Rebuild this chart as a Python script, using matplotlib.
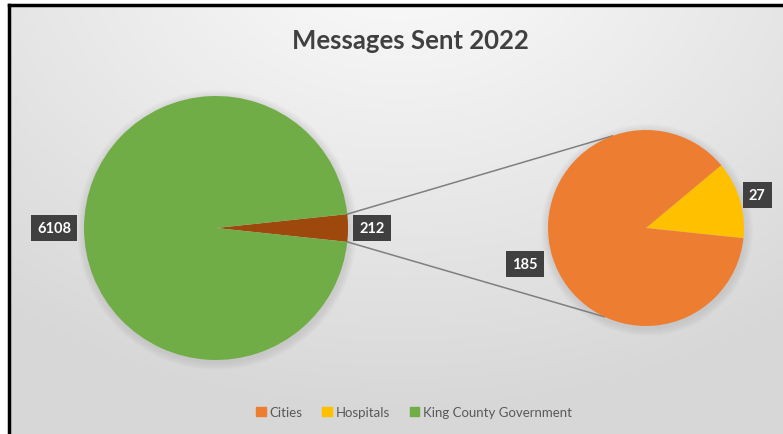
import numpy as np
import matplotlib.pyplot as plt
from matplotlib.patches import Patch, Circle

# message counts by sender
main_labels = ["Other", "King County Government"]
main_values = [212, 6108]
sub_labels = ["Hospitals", "Cities"]
sub_values = [27, 185]

c_cities = "#ED7D31"
c_hosp = "#FFC000"
c_kcg = "#70AD47"
c_other = "#9E480E"

plt.rcParams["font.family"] = ["Lato", "DejaVu Sans"]

W, H = 783, 435
fig = plt.figure(figsize=(W / 100, H / 100), dpi=100)

# soft grey background, lighter at the top
bg = fig.add_axes([0, 0, 1, 1])
yy, xx = np.mgrid[0:H, 0:W]
d = np.sqrt(((xx - 400) / 700.0) ** 2 + ((yy + 60) / 520.0) ** 2)
shade = np.clip(0.99 - 0.16 * d, 0.845, 0.99)
bg.imshow(np.dstack([shade] * 3), extent=[0, W, 0, H], origin="upper", aspect="auto")
bg.set_xlim(0, W)
bg.set_ylim(0, H)
bg.axis("off")
# frame lines on left and top
bg.fill_between([0, 8], 0, H, color="white")
bg.fill_between([0, W], H - 5, H, color="white")
bg.plot([8.5, 8.5], [0, H - 5.5], color="black", lw=2.5)
bg.plot([8.5, W], [H - 5.5, H - 5.5], color="black", lw=2.5)

ax = fig.add_axes([0, 0, 1, 1])
ax.set_xlim(0, W)
ax.set_ylim(0, H)
ax.set_aspect("equal")
ax.axis("off")

left_c, left_r = (216, 206), 132
right_c, right_r = (646, 206), 98

# soft shadows under both pies
for (cx, cy), r in [(left_c, left_r), (right_c, right_r)]:
    for k in range(8):
        ax.add_patch(Circle((cx + 1, cy - 2), r + 8 - k, color="#9a9a9a",
                            alpha=0.035, lw=0, zorder=1))

other_angle = main_values[0] / sum(main_values) * 360
ax.pie(main_values, colors=[c_other, c_kcg], startangle=-other_angle / 2,
       center=left_c, radius=left_r, frame=True,
       wedgeprops=dict(linewidth=0, zorder=2))
ax.pie(sub_values, colors=[c_hosp, c_cities], startangle=-6,
       center=right_c, radius=right_r, frame=True,
       wedgeprops=dict(linewidth=0, zorder=2))
ax.set_xlim(0, W)
ax.set_ylim(0, H)
ax.axis("off")

# connector lines from the "other" wedge to the second pie
half = np.radians(other_angle / 2)
for sgn, ang in [(1, 110), (-1, -115)]:
    x0 = left_c[0] + left_r * np.cos(half)
    y0 = left_c[1] + sgn * left_r * np.sin(half)
    x1 = right_c[0] + right_r * np.cos(np.radians(ang))
    y1 = right_c[1] + right_r * np.sin(np.radians(ang))
    ax.plot([x0, x1], [y0, y1], color="#7f7f7f", lw=1.1, zorder=1.5)

box = dict(boxstyle="square,pad=0.42", fc="#404040", ec="none")
lab = dict(color="white", fontsize=10.5, fontweight="bold", ha="center",
           va="center", bbox=box, zorder=5)
ax.text(54, 206, str(main_values[1]), **lab)
ax.text(372, 206, str(main_values[0]), **lab)
ax.text(757, 239, str(sub_values[0]), **lab)
ax.text(525, 170, str(sub_values[1]), **lab)

fig.text(410 / W, 1 - 41 / H, "Messages Sent 2022", ha="center", va="center",
         fontsize=18.5, fontweight="bold", color="#404040")

handles = [Patch(color=c_cities), Patch(color=c_hosp), Patch(color=c_kcg)]
fig.legend(handles, ["Cities", "Hospitals", "King County Government"],
           loc="center", bbox_to_anchor=(414 / W, 1 - 413 / H), ncol=3,
           frameon=False, fontsize=9.5, labelcolor="#595959",
           handlelength=0.7, handleheight=0.7, handletextpad=0.3,
           columnspacing=1.5)

fig.savefig("out.png", dpi=100)
